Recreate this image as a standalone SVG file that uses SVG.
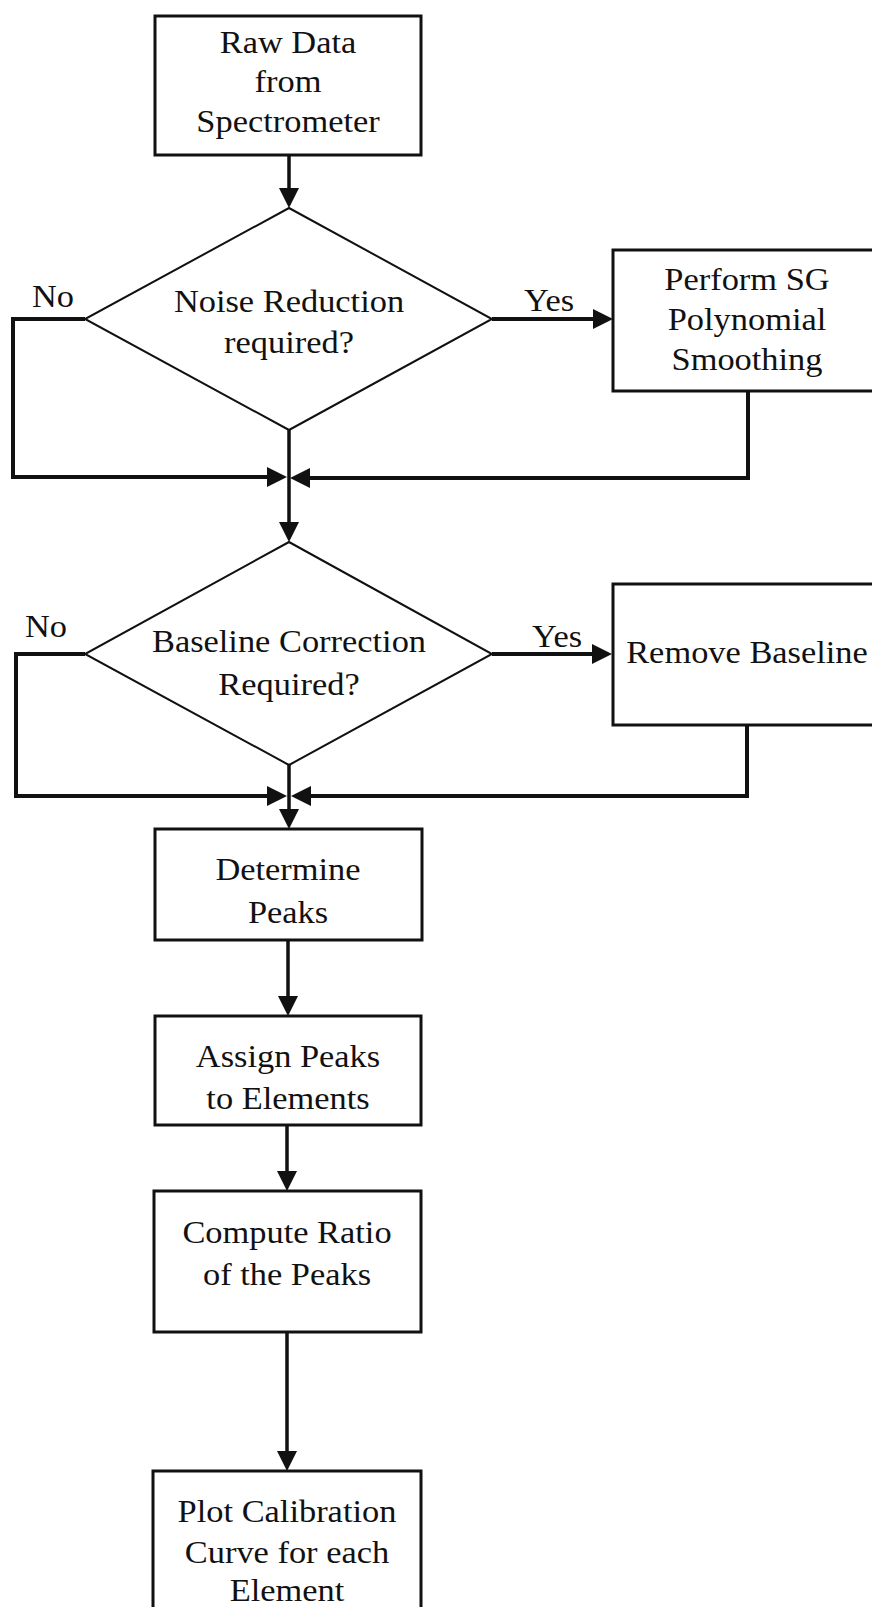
<svg xmlns="http://www.w3.org/2000/svg" width="872" height="1607" viewBox="0 0 872 1607">
<style>
.box{fill:#fff;stroke:#111;stroke-width:3}
.dia{fill:#fff;stroke:#111;stroke-width:2}
.t{font-family:"Liberation Serif","Times New Roman",serif;font-size:31px;fill:#111;text-anchor:middle}
.c{fill:none;stroke:#111;stroke-width:4;stroke-linejoin:miter}
.v{fill:none;stroke:#111;stroke-width:3.5}
</style>
<defs>
<marker id="ah" markerUnits="userSpaceOnUse" markerWidth="22" markerHeight="22" refX="10" refY="10" orient="auto" viewBox="0 0 22 22">
<path d="M0,0 L20,10 L0,20 z" fill="#111"/>
</marker>
</defs>
<rect width="872" height="1607" fill="#fff"/>
<g id="connectors">
<path class="v" d="M289,155 L289,198" marker-end="url(#ah)"/>
<path class="v" d="M289,430 L289,532" marker-end="url(#ah)"/>
<path class="c" d="M85,319 L13,319 L13,477 L277,477" marker-end="url(#ah)"/>
<path class="c" d="M748,391 L748,478 L300,478" marker-end="url(#ah)"/>
<path class="c" d="M492,319 L603,319" marker-end="url(#ah)"/>
<path class="c" d="M85,654 L16,654 L16,796 L277,796" marker-end="url(#ah)"/>
<path class="c" d="M747,725 L747,796 L301,796" marker-end="url(#ah)"/>
<path class="c" d="M492,654 L602,654" marker-end="url(#ah)"/>
<path class="v" d="M289,765 L289,819" marker-end="url(#ah)"/>
<path class="v" d="M288,940 L288,1006" marker-end="url(#ah)"/>
<path class="v" d="M287,1125 L287,1181" marker-end="url(#ah)"/>
<path class="v" d="M287,1332 L287,1461" marker-end="url(#ah)"/>
</g>
<g id="raw">
<rect class="box" x="155" y="16" width="266" height="139"/>
<text class="t" transform="translate(288,0) scale(1.11,1)"><tspan x="0" y="53">Raw Data</tspan><tspan x="0" y="92">from</tspan><tspan x="0" y="132">Spectrometer</tspan></text>
</g>
<g id="noise">
<polygon class="dia" points="289,208 492,319 289,430 85,319"/>
<text class="t" transform="translate(289,0) scale(1.11,1)"><tspan x="0" y="312">Noise Reduction</tspan><tspan x="0" y="353">required?</tspan></text>
</g>
<g id="labels1">
<text class="t" transform="translate(53,0) scale(1.11,1)"><tspan x="0" y="307">No</tspan></text>
<text class="t" transform="translate(549,0) scale(1.11,1)"><tspan x="0" y="311">Yes</tspan></text>
</g>
<g id="sg">
<rect class="box" x="613" y="250" width="280" height="141"/>
<text class="t" transform="translate(747,0) scale(1.11,1)"><tspan x="0" y="290">Perform SG</tspan><tspan x="0" y="330">Polynomial</tspan><tspan x="0" y="370">Smoothing</tspan></text>
</g>
<g id="baseline">
<polygon class="dia" points="289,542 492,654 289,765 85,654"/>
<text class="t" transform="translate(289,0) scale(1.11,1)"><tspan x="0" y="652">Baseline Correction</tspan><tspan x="0" y="695">Required?</tspan></text>
</g>
<g id="labels2">
<text class="t" transform="translate(46,0) scale(1.11,1)"><tspan x="0" y="637">No</tspan></text>
<text class="t" transform="translate(557,0) scale(1.11,1)"><tspan x="0" y="647">Yes</tspan></text>
</g>
<g id="remove">
<rect class="box" x="613" y="584" width="280" height="141"/>
<text class="t" transform="translate(747,0) scale(1.11,1)"><tspan x="0" y="663">Remove Baseline</tspan></text>
</g>
<g id="determine">
<rect class="box" x="155" y="829" width="267" height="111"/>
<text class="t" transform="translate(288,0) scale(1.11,1)"><tspan x="0" y="880">Determine</tspan><tspan x="0" y="923">Peaks</tspan></text>
</g>
<g id="assign">
<rect class="box" x="155" y="1016" width="266" height="109"/>
<text class="t" transform="translate(288,0) scale(1.11,1)"><tspan x="0" y="1067">Assign Peaks</tspan><tspan x="0" y="1109">to Elements</tspan></text>
</g>
<g id="compute">
<rect class="box" x="154" y="1191" width="267" height="141"/>
<text class="t" transform="translate(287,0) scale(1.11,1)"><tspan x="0" y="1243">Compute Ratio</tspan><tspan x="0" y="1285">of the Peaks</tspan></text>
</g>
<g id="plot">
<rect class="box" x="153" y="1471" width="268" height="200"/>
<text class="t" transform="translate(287,0) scale(1.11,1)"><tspan x="0" y="1522">Plot Calibration</tspan><tspan x="0" y="1563">Curve for each</tspan><tspan x="0" y="1601">Element</tspan></text>
</g>
</svg>
